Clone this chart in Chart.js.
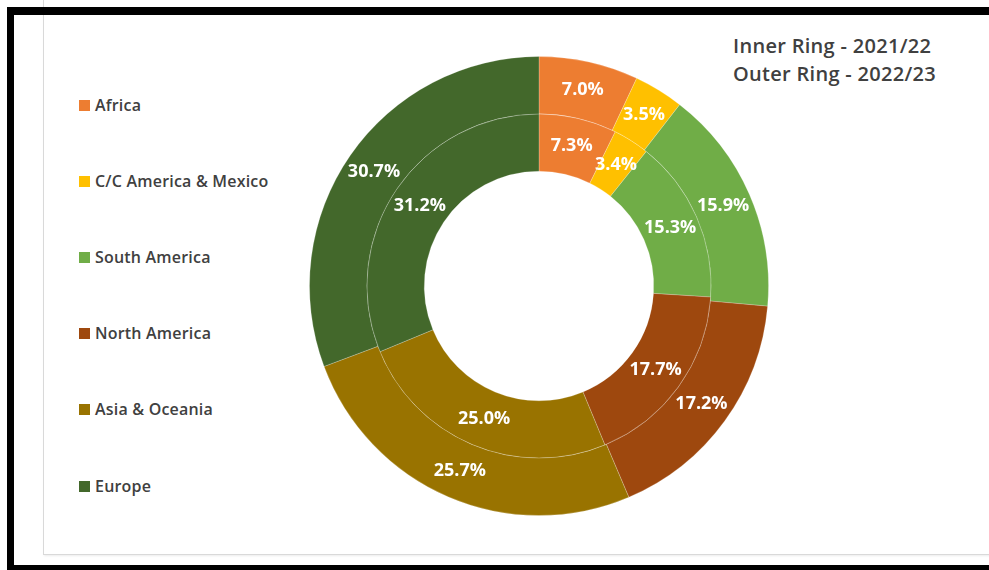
<!DOCTYPE html>
<html>
<head>
<meta charset="utf-8">
<script src="https://cdn.jsdelivr.net/npm/chart.js@4"></script>
<style>
  html,body{margin:0;padding:0;background:#fff;width:989px;height:570px;overflow:hidden;}
  #frame{position:absolute;left:7px;top:7px;width:1100px;height:563px;box-sizing:border-box;
    border-left:7px solid #000;border-top:8px solid #000;border-bottom:5px solid #000;}
  #card{position:absolute;left:43px;top:0;width:1000px;height:555px;box-sizing:border-box;
    border-left:1px solid #d9d9d9;border-bottom:1px solid #d9d9d9;box-shadow:1px 1px 2px rgba(0,0,0,0.08);}
  #wrap{position:absolute;left:309px;top:56px;width:460px;height:460px;}
  #legend{position:absolute;left:79px;top:0;font-family:"Open Sans",sans-serif;font-weight:600;font-size:16px;letter-spacing:0.2px;color:#404040;}
  .li{position:absolute;left:0;white-space:nowrap;display:flex;align-items:center;height:20px;}
  .sw{width:11px;height:11px;margin-right:5px;display:inline-block;}
  #note{position:absolute;left:733px;top:32px;font-family:"Open Sans",sans-serif;font-weight:600;font-size:20px;letter-spacing:0.3px;line-height:28px;color:#404040;white-space:nowrap;}
</style>
</head>
<body>
<div id="card"></div>
<div id="frame"></div>
<div id="legend"></div>
<div id="note">Inner Ring - 2021/22<br>Outer Ring - 2022/23</div>
<div id="wrap"><canvas id="c"></canvas></div>
<script>
const categories = ["Africa", "C/C America & Mexico", "South America", "North America", "Asia & Oceania", "Europe"];
const outer2022_23 = [7.0, 3.5, 15.9, 17.2, 25.7, 30.7];
const inner2021_22 = [7.3, 3.4, 15.3, 17.7, 25.0, 31.2];
const colors = ["#ED7D31", "#FFC000", "#70AD47", "#9E480E", "#997300", "#43682B"];
const legendY = [105, 181, 257, 333, 409, 486];

const legend = document.getElementById('legend');
categories.forEach((c, i) => {
  const d = document.createElement('div');
  d.className = 'li';
  d.style.top = (legendY[i] - 10) + 'px';
  d.innerHTML = '<span class="sw" style="background:' + colors[i] + '"></span>' + c;
  legend.appendChild(d);
});

const pctLabels = {
  id: 'pctLabels',
  afterDatasetsDraw(chart) {
    const ctx = chart.ctx;
    ctx.save();
    ctx.font = '700 18px "Open Sans"';
    ctx.fillStyle = '#ffffff';
    ctx.textAlign = 'center';
    ctx.textBaseline = 'middle';
    chart.data.datasets.forEach((ds, i) => {
      const meta = chart.getDatasetMeta(i);
      meta.data.forEach((arc, j) => {
        const p = arc.tooltipPosition();
        ctx.fillText(ds.data[j].toFixed(1) + '%', p.x, p.y);
      });
    });
    ctx.restore();
  }
};

new Chart(document.getElementById('c'), {
  type: 'doughnut',
  data: {
    labels: categories,
    datasets: [
      { label: '2022/23', data: outer2022_23, backgroundColor: colors, borderColor: 'rgba(255,255,255,0.22)', borderWidth: 1, hoverOffset: 0 },
      { label: '2021/22', data: inner2021_22, backgroundColor: colors, borderColor: 'rgba(255,255,255,0.22)', borderWidth: 1, hoverOffset: 0 }
    ]
  },
  options: {
    responsive: true,
    maintainAspectRatio: false,
    animation: false,
    cutout: '50%',
    layout: { padding: 0 },
    plugins: { legend: { display: false }, tooltip: { enabled: false }, title: { display: false } }
  },
  plugins: [pctLabels]
});
</script>
</body>
</html>
